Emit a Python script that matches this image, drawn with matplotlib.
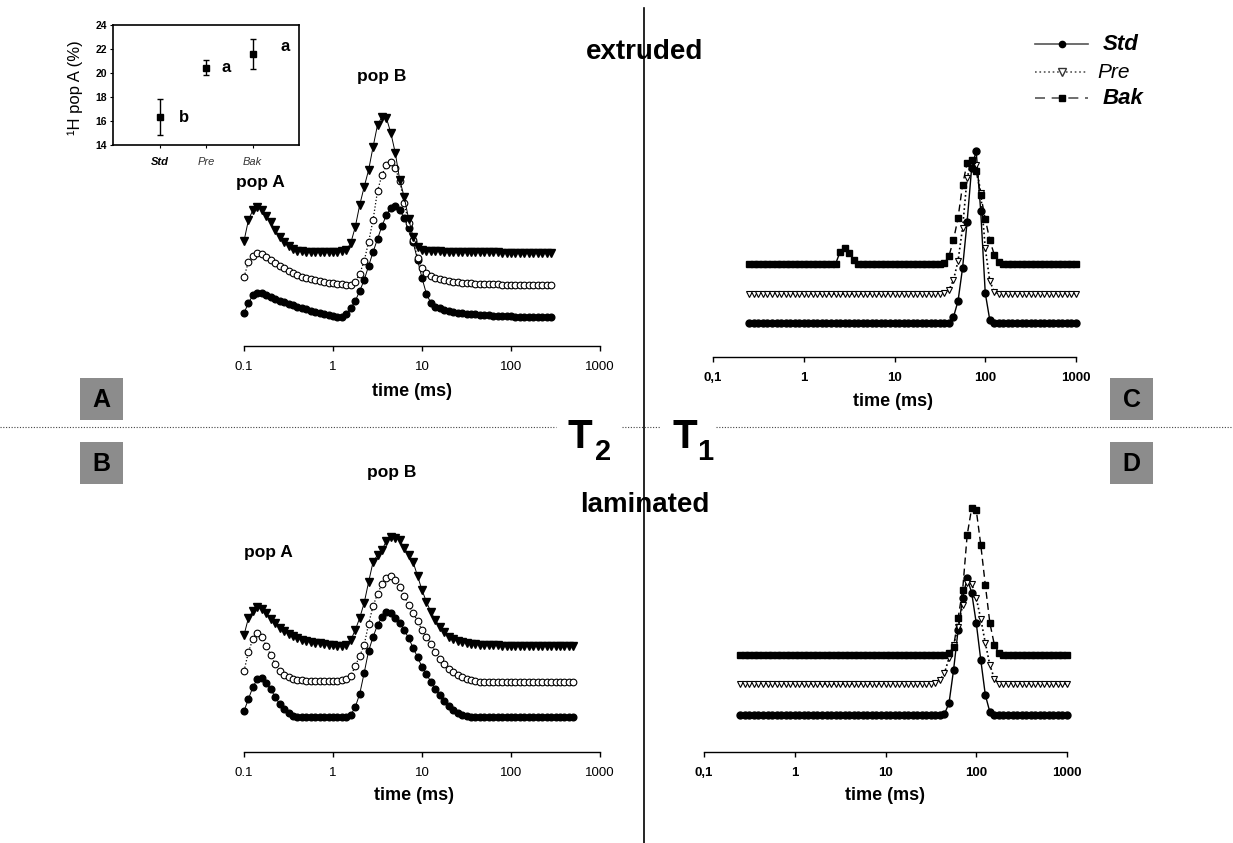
import numpy as np
import matplotlib.pyplot as plt
from matplotlib.patches import Rectangle
from matplotlib.ticker import NullLocator

plt.rcParams['font.family'] = ['Liberation Sans', 'DejaVu Sans']

W, H = 1233, 843

# relaxation time grids (ms), log spaced as in the inversion
t2_ext = np.logspace(-1, 2.45, 70)
t2_lam = np.logspace(-1, 2.7, 75)
t1_grid = np.logspace(-0.6, 3, 73)

# T2 extruded (arbitrary units, curves stacked)
a_std = [4, 14, 22, 24, 24, 22, 20, 18, 16, 15,
         13, 12, 10, 9, 8, 6, 5, 4, 3, 2,
         1, 0, 0, 3, 9, 16, 26, 37, 51, 65,
         78, 91, 102, 109, 111, 107, 99, 89, 75, 57,
         39, 23, 14, 10, 9, 7, 6, 5, 4, 4,
         3, 3, 3, 2, 2, 2, 1, 1, 1, 1,
         1, 0, 0, 0, 0, 0, 0, 0, 0, 0]
a_pre = [40, 55, 61, 64, 63, 60, 57, 54, 51, 49,
         46, 44, 42, 40, 39, 38, 37, 36, 35, 34,
         34, 33, 33, 32, 32, 35, 43, 56, 75, 97,
         126, 142, 152, 155, 149, 136, 114, 94, 77, 59,
         49, 44, 41, 39, 38, 37, 36, 35, 35, 34,
         34, 34, 33, 33, 33, 33, 33, 33, 32, 32,
         32, 32, 32, 32, 32, 32, 32, 32, 32, 32]
a_bak = [76, 97, 107, 110, 107, 101, 95, 87, 80, 75,
         71, 68, 66, 66, 65, 65, 65, 65, 65, 65,
         65, 65, 66, 67, 74, 90, 112, 130, 147, 170,
         192, 200, 199, 184, 164, 137, 120, 98, 80, 70,
         67, 66, 66, 66, 66, 65, 65, 65, 65, 65,
         65, 65, 65, 65, 65, 65, 65, 65, 64, 64,
         64, 64, 64, 64, 64, 64, 64, 64, 64, 64]

# T2 laminated
b_std = [6, 18, 30, 38, 39, 34, 28, 20, 13, 8,
         4, 1, 0, 0, 0, 0, 0, 0, 0, 0,
         0, 0, 0, 0, 2, 10, 23, 44, 66, 80,
         92, 100, 105, 104, 99, 94, 87, 79, 69, 60,
         50, 43, 35, 28, 22, 16, 11, 7, 4, 2,
         1, 0, 0, 0, 0, 0, 0, 0, 0, 0,
         0, 0, 0, 0, 0, 0, 0, 0, 0, 0,
         0, 0, 0, 0, 0]
b_pre = [46, 65, 78, 84, 80, 71, 62, 53, 46, 42,
         40, 38, 37, 37, 36, 36, 36, 36, 36, 36,
         36, 36, 37, 38, 41, 51, 61, 72, 93, 111,
         123, 133, 139, 141, 137, 130, 121, 112, 104, 96,
         87, 80, 73, 65, 58, 53, 48, 45, 42, 40,
         38, 37, 36, 35, 35, 35, 35, 35, 35, 35,
         35, 35, 35, 35, 35, 35, 35, 35, 35, 35,
         35, 35, 35, 35, 35]
b_bak = [82, 99, 106, 110, 108, 104, 98, 94, 89, 86,
         83, 81, 79, 77, 76, 75, 74, 74, 73, 72,
         72, 71, 71, 72, 77, 87, 99, 114, 135, 155,
         162, 167, 176, 180, 179, 177, 169, 162, 155, 141,
         127, 115, 105, 97, 90, 85, 80, 78, 76, 75,
         74, 73, 73, 72, 72, 72, 72, 72, 71, 71,
         71, 71, 71, 71, 71, 71, 71, 71, 71, 71,
         71, 71, 71, 71, 71]

# T1 extruded
c_std = [0, 0, 0, 0, 0, 0, 0, 0, 0, 0,
         0, 0, 0, 0, 0, 0, 0, 0, 0, 0,
         0, 0, 0, 0, 0, 0, 0, 0, 0, 0,
         0, 0, 0, 0, 0, 0, 0, 0, 0, 0,
         0, 0, 0, 0, 0, 6, 22, 55, 101, 155,
         172, 112, 30, 3, 0, 0, 0, 0, 0, 0,
         0, 0, 0, 0, 0, 0, 0, 0, 0, 0,
         0, 0, 0]
c_pre = [29, 29, 29, 29, 29, 29, 29, 29, 29, 29,
         29, 29, 29, 29, 29, 29, 29, 29, 29, 29,
         29, 29, 29, 29, 29, 29, 29, 29, 29, 29,
         29, 29, 29, 29, 29, 29, 29, 29, 29, 29,
         29, 29, 29, 30, 33, 43, 62, 95, 145, 162,
         158, 130, 75, 42, 31, 29, 29, 29, 29, 29,
         29, 29, 29, 29, 29, 29, 29, 29, 29, 29,
         29, 29, 29]
c_bak = [59, 59, 59, 59, 59, 59, 59, 59, 59, 59,
         59, 59, 59, 59, 59, 59, 59, 59, 59, 59,
         71, 75, 70, 63, 59, 59, 59, 59, 59, 59,
         59, 59, 59, 59, 59, 59, 59, 59, 59, 59,
         59, 59, 59, 60, 67, 83, 105, 138, 160, 163,
         152, 128, 104, 83, 68, 61, 59, 59, 59, 59,
         59, 59, 59, 59, 59, 59, 59, 59, 59, 59,
         59, 59, 59]

# T1 laminated
d_std = [0, 0, 0, 0, 0, 0, 0, 0, 0, 0,
         0, 0, 0, 0, 0, 0, 0, 0, 0, 0,
         0, 0, 0, 0, 0, 0, 0, 0, 0, 0,
         0, 0, 0, 0, 0, 0, 0, 0, 0, 0,
         0, 0, 0, 0, 0, 1, 12, 45, 85, 117,
         137, 122, 92, 55, 20, 3, 0, 0, 0, 0,
         0, 0, 0, 0, 0, 0, 0, 0, 0, 0,
         0, 0, 0]
d_pre = [31, 31, 31, 31, 31, 31, 31, 31, 31, 31,
         31, 31, 31, 31, 31, 31, 31, 31, 31, 31,
         31, 31, 31, 31, 31, 31, 31, 31, 31, 31,
         31, 31, 31, 31, 31, 31, 31, 31, 31, 31,
         31, 31, 31, 32, 35, 42, 57, 70, 88, 110,
         132, 131, 117, 96, 72, 50, 36, 31, 31, 31,
         31, 31, 31, 31, 31, 31, 31, 31, 31, 31,
         31, 31, 31]
d_bak = [60, 60, 60, 60, 60, 60, 60, 60, 60, 60,
         60, 60, 60, 60, 60, 60, 60, 60, 60, 60,
         60, 60, 60, 60, 60, 60, 60, 60, 60, 60,
         60, 60, 60, 60, 60, 60, 60, 60, 60, 60,
         60, 60, 60, 60, 60, 60, 62, 68, 97, 125,
         180, 207, 205, 170, 130, 92, 70, 62, 60, 60,
         60, 60, 60, 60, 60, 60, 60, 60, 60, 60,
         60, 60, 60]

# inset: proportion of proton population A
inset_groups = ['Std', 'Pre', 'Bak']
inset_mean = [16.3, 20.45, 21.55]
inset_err = [1.5, 0.6, 1.25]
inset_letters = ['b', 'a', 'a']

tick_vals = [0.1, 1, 10, 100, 1000]
ticks_dot = ['0.1', '1', '10', '100', '1000']
ticks_comma = ['0,1', '1', '10', '100', '1000']

fig = plt.figure(figsize=(W / 100, H / 100), dpi=100)

ov = fig.add_axes([0, 0, 1, 1])
ov.set_xlim(0, W)
ov.set_ylim(H, 0)
ov.axis('off')


def px_axes(l, t, r, b):
    ax = fig.add_axes([l / W, 1 - b / H, (r - l) / W, (b - t) / H])
    ax.patch.set_alpha(0)
    return ax


t2_styles = {
    'Std': dict(marker='o', ms=4.8, mfc='black', mec='black', ls='-', lw=0.7),
    'Pre': dict(marker='o', ms=4.8, mfc='white', mec='black', mew=0.8, ls=':', lw=0.9),
    'Bak': dict(marker='v', ms=5.5, mfc='black', mec='black', ls='-', lw=0.7),
}
t1_styles = {
    'Std': dict(marker='o', ms=5, mfc='black', mec='black', ls='-', lw=1.0),
    'Pre': dict(marker='v', ms=5, mfc='white', mec='black', mew=0.8, ls=':', lw=1.2),
    'Bak': dict(marker='s', ms=4.5, mfc='black', mec='black', ls=(0, (5, 3)), lw=1.0),
}


def curve_panel(box, t, series, ylim, styles, labels, bold):
    ax = px_axes(*box)
    ax.set_xscale('log')
    ax.set_xlim(0.1, 1000)
    ax.set_ylim(*ylim)
    for name in ['Std', 'Pre', 'Bak']:
        ax.plot(t, series[name], color='black', clip_on=False, **styles[name])
    for s in ['left', 'right', 'top']:
        ax.spines[s].set_visible(False)
    ax.spines['bottom'].set_linewidth(1.0)
    ax.set_xticks(tick_vals, labels, fontweight='bold' if bold else 'normal')
    ax.xaxis.set_minor_locator(NullLocator())
    ax.tick_params(axis='x', direction='out', length=3.5, width=1, pad=7, labelsize=9.5)
    ax.set_yticks([])
    return ax


curve_panel((244, 60, 600, 346), t2_ext, {'Std': a_std, 'Pre': a_pre, 'Bak': a_bak},
            (-29, 257), t2_styles, ticks_dot, False)
curve_panel((244, 460, 600, 752), t2_lam, {'Std': b_std, 'Pre': b_pre, 'Bak': b_bak},
            (-35, 257), t2_styles, ticks_dot, False)
curve_panel((713, 60, 1076, 357), t1_grid, {'Std': c_std, 'Pre': c_pre, 'Bak': c_bak},
            (-34, 263), t1_styles, ticks_comma, True)
curve_panel((704, 460, 1067, 752), t1_grid, {'Std': d_std, 'Pre': d_pre, 'Bak': d_bak},
            (-37, 255), t1_styles, ticks_comma, True)

# inset
ax_in = px_axes(113, 25, 299, 145)
pos = np.arange(1, len(inset_groups) + 1)
ax_in.errorbar(pos, inset_mean, yerr=inset_err, fmt='s', color='black', ms=5,
               capsize=2.5, elinewidth=1, capthick=1)
ax_in.set_xlim(0, 4)
ax_in.set_ylim(14, 24)
ax_in.set_yticks(np.arange(14, 25, 2))
ax_in.tick_params(axis='y', direction='out', length=2.5, labelsize=7.5, pad=2)
ax_in.tick_params(axis='x', direction='out', length=2.5, labelsize=8, pad=6)
for lbl in ax_in.get_yticklabels():
    lbl.set_fontweight('bold')
ax_in.set_xticks(pos, inset_groups)
for lbl, grp in zip(ax_in.get_xticklabels(), inset_groups):
    lbl.set_fontstyle('italic')
    if grp == 'Std':
        lbl.set_fontweight('bold')
    else:
        lbl.set_color('#333333')
for s in ax_in.spines.values():
    s.set_linewidth(1.2)
letter_offsets = [(14, 0), (11, 0), (20, 6)]
for x, y, let, off in zip(pos, inset_mean, inset_letters, letter_offsets):
    ax_in.annotate(let, (x, y), xytext=off, textcoords='offset points',
                   ha='left', va='center', fontsize=12, fontweight='bold')
ov.text(75, 88, '\u00b9H pop A (%)', rotation=90, ha='center', va='center', fontsize=12)

# separators
ov.plot([644, 644], [8, 843], color='black', lw=1.2)
for x0, x1 in [(0, 556), (622, 660), (716, 1233)]:
    ov.plot([x0, x1], [427, 427], color='#444444', lw=0.8, ls=(0, (1, 1.5)))

ov.text(580, 448, 'T', fontsize=29, fontweight='bold', ha='center', va='baseline')
ov.text(603, 460, '2', fontsize=21, fontweight='bold', ha='center', va='baseline')
ov.text(685, 448, 'T', fontsize=29, fontweight='bold', ha='center', va='baseline')
ov.text(705, 460, '1', fontsize=21, fontweight='bold', ha='center', va='baseline')

ov.text(645, 52, 'extruded', fontsize=20, fontweight='bold', ha='center', va='center')
ov.text(645, 505, 'laminated', fontsize=20, fontweight='bold', ha='center', va='center')

for x, y, s in [(260, 182, 'pop A'), (382, 77, 'pop B'), (268, 553, 'pop A'), (392, 472, 'pop B')]:
    ov.text(x, y, s, fontsize=12.5, fontweight='bold', ha='center', va='center')

for x, y in [(412, 391), (414, 796), (893, 401), (885, 796)]:
    ov.text(x, y, 'time (ms)', fontsize=13, fontweight='bold', ha='center', va='center')

# panel letters
for x, y, let in [(80, 378, 'A'), (80, 442, 'B'), (1110, 378, 'C'), (1110, 442, 'D')]:
    ov.add_patch(Rectangle((x, y), 43, 42, fc='#8c8c8c', ec='none'))
    ov.text(x + 21.5, y + 22, let, fontsize=18, fontweight='bold', ha='center', va='center')

# legend
leg_rows = [
    ('Std', 44, dict(ls='-', marker='o', ms=4.5, mfc='black', mec='black'),
     dict(fontweight='bold', fontsize=16), 1103),
    ('Pre', 72, dict(ls=':', marker='v', ms=6, mfc='white', mec='#333333'),
     dict(fontweight='normal', fontsize=15), 1097),
    ('Bak', 98, dict(ls=(0, (6, 4)), marker='s', ms=5, mfc='black', mec='black'),
     dict(fontweight='bold', fontsize=16), 1103),
]
for name, y, lst, fst, tx in leg_rows:
    ov.plot([1035, 1088], [y, y], color='#555555', lw=1.2, ls=lst['ls'])
    ov.plot([1062], [y], color='#555555', ls='none', marker=lst['marker'], ms=lst['ms'],
            mfc=lst['mfc'], mec=lst['mec'])
    ov.text(tx, y, name, style='italic', ha='left', va='center', **fst)

fig.savefig('out.png', dpi=100)
